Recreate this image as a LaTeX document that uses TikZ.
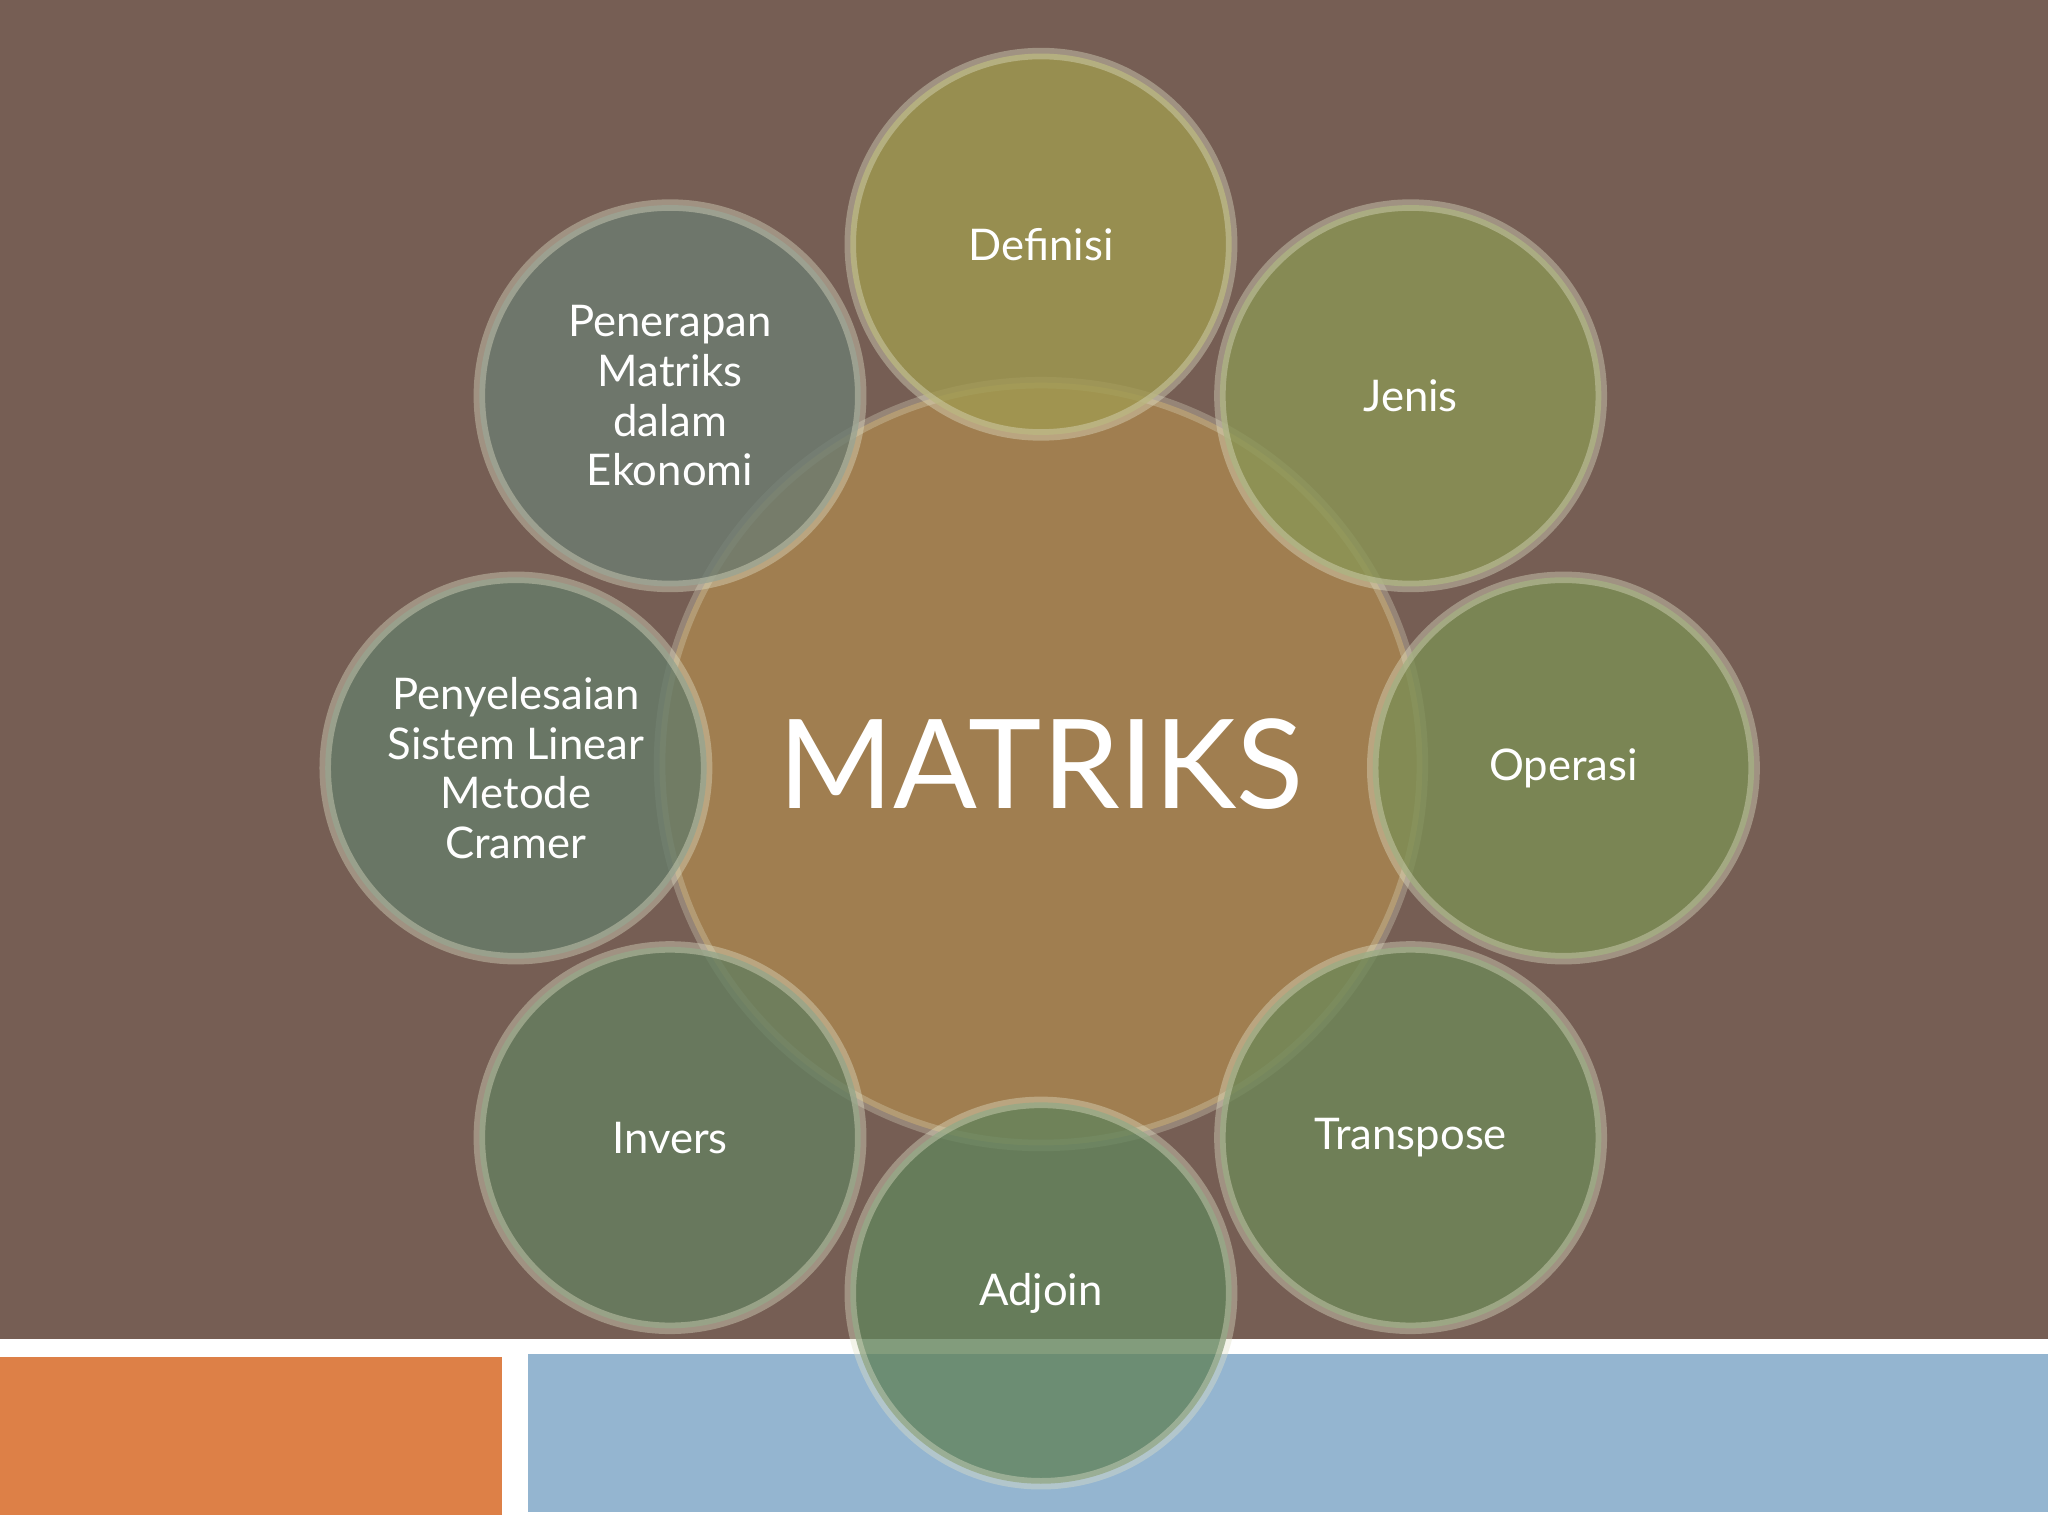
\documentclass[tikz,border=0pt]{standalone}
\usepackage{fontspec}
\setmainfont{Lato}
\begin{document}
\begin{tikzpicture}[x=0.01cm,y=-0.01cm,
  sat/.style={circle,minimum size=292*0.01cm,inner sep=0pt,fill opacity=0.8,text opacity=1,
    draw={rgb,255:red,225;green,225;blue,200},draw opacity=0.4,line width=2.5pt,text=white,font=\fontsize{9.5}{10.8}\selectfont,align=center}]
\useasboundingbox (0,0) rectangle (1568,1176);
\fill[white] (0,0) rectangle (1568,1176);
\fill[fill={rgb,255:red,118;green,94;blue,84}] (0,0) rectangle (1568,1025);
\fill[fill={rgb,255:red,221;green,128;blue,71}] (0,1039) rectangle (384,1160);
\fill[fill={rgb,255:red,148;green,181;blue,208}] (404,1037) rectangle (1568,1158);
\node[circle,minimum size=584*0.01cm,fill={rgb,255:red,163;green,128;blue,80},fill opacity=0.95,draw={rgb,255:red,225;green,225;blue,200},draw opacity=0.3,line width=2.5pt,text=white,text opacity=1,font=\fontsize{27}{30}\selectfont] (c) at (797,585) {MATRIKS};
\node[sat,fill={rgb,255:red,160;green,154;blue,80}] (d) at (797,187) {Definisi};
\node[sat,fill={rgb,255:red,138;green,150;blue,85}] (j) at (1080,303) {Jenis};
\node[sat,fill={rgb,255:red,124;green,143;blue,85}] (o) at (1197,588) {Operasi};
\node[sat,fill={rgb,255:red,110;green,136;blue,88}] (t) at (1080,871) {Transpose};
\node[sat,fill={rgb,255:red,99;green,132;blue,92}] (a) at (797,990) {Adjoin};
\node[sat,fill={rgb,255:red,101;green,127;blue,96}] (i) at (513,871) {Invers};
\node[sat,fill={rgb,255:red,102;green,124;blue,106}] (p) at (395,588) {Penyelesaian\\Sistem Linear\\Metode\\Cramer};
\node[sat,fill={rgb,255:red,108;green,124;blue,113}] (e) at (513,303) {Penerapan\\Matriks\\dalam\\Ekonomi};
\end{tikzpicture}
\end{document}
